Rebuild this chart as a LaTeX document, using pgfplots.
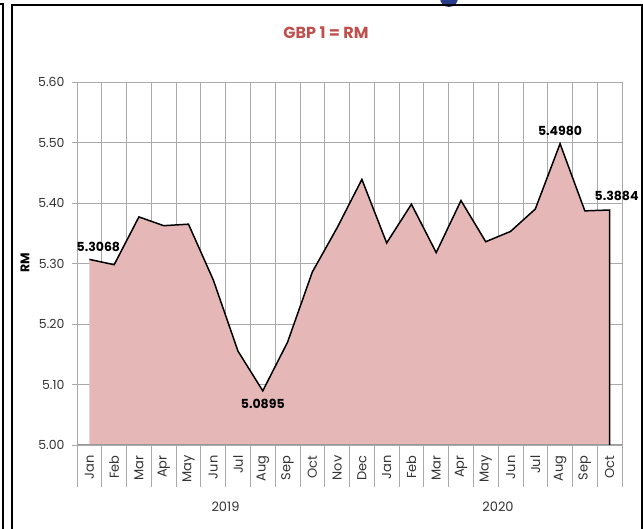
\documentclass[border=0pt]{standalone}
\usepackage{pgfplots}
\pgfplotsset{compat=1.18}
\usepackage{fontspec}
\setmainfont{Poppins}
\definecolor{areafill}{RGB}{229,184,183}
\definecolor{gridgray}{RGB}{170,170,170}
\definecolor{titlered}{RGB}{192,80,77}
\definecolor{dotblue}{RGB}{40,60,140}
\begin{document}
\begin{tikzpicture}[x=1pt,y=1pt]
\path[use as bounding box] (-77,-84) rectangle (566,445);
\begin{scope}
\clip (-77,-84) rectangle (566,445);
\fill[dotblue] (372,447) circle (9);
\draw[line width=2.2] (-65,-90) -- (-65,440) -- (565,440) -- (565,-90);
\draw[line width=2.2] (-80,441) -- (-74,441) -- (-74,-90);
\end{scope}
\begin{axis}[
  at={(0,0)}, anchor=south west,
  scale only axis, width=545pt, height=363pt,
  xmin=-0.5, xmax=21.5, ymin=5.0, ymax=5.6,
  xtick pos=bottom, ytick pos=left,
  xtick={0,...,21},
  xticklabels={Jan,Feb,Mar,Apr,May,Jun,Jul,Aug,Sep,Oct,Nov,Dec,Jan,Feb,Mar,Apr,May,Jun,Jul,Aug,Sep,Oct},
  major x tick style={draw=none},
  minor xtick={-0.5,0.5,...,21.5},
  minor x tick style={gridgray, line width=0.8pt},
  minor tick length=42pt,
  extra x ticks={-0.5,11.5,21.5},
  extra x tick labels={},
  extra x tick style={major tick length=70pt, tick style={gridgray,line width=0.8pt}, grid=none},
  tick align=outside,
  minor x grid style={gridgray, line width=0.8pt},
  xminorgrids=true,
  ytick={5.0,5.1,5.2,5.3,5.4,5.5,5.6},
  ymajorgrids=true,
  major grid style={gridgray, line width=0.8pt},
  major y tick style={gridgray, line width=0.8pt},
  major tick length=5pt,
  yticklabel style={/pgf/number format/fixed, /pgf/number format/fixed zerofill, /pgf/number format/precision=2, font=\fontsize{12.5}{14}\selectfont, text=black!80, xshift=-4pt},
  /pgf/number format/assume math mode=true,
  xticklabel style={rotate=90, anchor=east, font=\fontsize{13}{15}\selectfont, text=black!80, xshift=-2pt},
  axis line style={gridgray, line width=0.8pt},
  clip=false,
]
\addplot[fill=areafill, draw=none] coordinates {
(0,5.0) (0,5.3068) (1,5.298) (2,5.377) (3,5.3625) (4,5.365) (5,5.273) (6,5.155) (7,5.0895) (8,5.170) (9,5.286) (10,5.359) (11,5.439)
(12,5.334) (13,5.398) (14,5.318) (15,5.404) (16,5.336) (17,5.353) (18,5.390) (19,5.498) (20,5.387) (21,5.3884) (21,5.0)} \closedcycle;
\draw[gridgray!90!black, line width=1pt] (axis cs:-0.5,5.0) -- (axis cs:21.5,5.0);
\addplot[black, line width=1.5pt, line join=miter] coordinates {
(0,5.3068) (1,5.298) (2,5.377) (3,5.3625) (4,5.365) (5,5.273) (6,5.155) (7,5.0895) (8,5.170) (9,5.286) (10,5.359) (11,5.439)
(12,5.334) (13,5.398) (14,5.318) (15,5.404) (16,5.336) (17,5.353) (18,5.390) (19,5.498) (20,5.387) (21,5.3884) (21,5.0)};
\node[font=\bfseries\fontsize{12.5}{14}\selectfont, anchor=south] at ([xshift=9pt,yshift=4pt]axis cs:0,5.3068) {5.3068};
\node[font=\bfseries\fontsize{12.5}{14}\selectfont, anchor=north] at ([yshift=-5pt]axis cs:7,5.0895) {5.0895};
\node[font=\bfseries\fontsize{12.5}{14}\selectfont, anchor=south] at ([yshift=4pt]axis cs:19,5.498) {5.4980};
\node[font=\bfseries\fontsize{12.5}{14}\selectfont, anchor=south] at ([xshift=7pt,yshift=6pt]axis cs:21,5.3884) {5.3884};
\end{axis}
\node[font=\bfseries\fontsize{16}{18}\selectfont, text=titlered] at (249,412) {GBP 1 = RM};
\node[font=\bfseries\fontsize{12.5}{14}\selectfont, rotate=90] at (-52,182) {RM};
\node[font=\fontsize{13}{15}\selectfont, text=black!80] at (148.5,-62) {2019};
\node[font=\fontsize{13}{15}\selectfont, text=black!80] at (421,-62) {2020};
\end{tikzpicture}
\end{document}
